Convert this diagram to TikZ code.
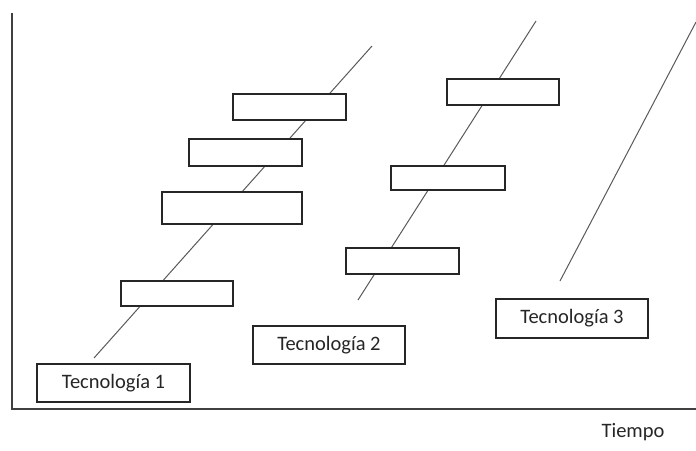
\documentclass[tikz,border=0pt]{standalone}
\usepackage{fontspec}
\setmainfont{Carlito}
\begin{document}
\begin{tikzpicture}[x=1pt,y=-1pt,
  axis/.style={draw=black!75, line width=1.2pt},
  trend/.style={draw=black!65, line width=1pt},
  bar/.style={draw=black!85, fill=white, line width=1.2pt, rectangle, inner sep=0pt},
  label/.style={bar, minimum width=152pt, minimum height=38pt, font=\fontsize{20.5}{24}\selectfont, text=black!85},
  plain/.style={font=\fontsize{20.5}{24}\selectfont, text=black!85, inner sep=0pt}
]
\useasboundingbox (0,0) rectangle (696,450);
% axes
\coordinate (ytop) at (12,13);
\coordinate (orig) at (12,409);
\coordinate (xend) at (696,409);
\draw[axis] (ytop) -- (orig) -- (xend);
% trend lines
\coordinate (l1a) at (94,358);
\coordinate (l1b) at (372,46);
\coordinate (l2a) at (358,300);
\coordinate (l2b) at (536,21);
\coordinate (l3a) at (560,281);
\coordinate (l3b) at (696,22);
\draw[trend] (l1a) -- (l1b);
\draw[trend] (l2a) -- (l2b);
\draw[trend] (l3a) -- (l3b);
% bars technology 1
\node[bar, minimum width=112pt, minimum height=25pt] (a) at (177,293.5) {};
\node[bar, minimum width=140pt, minimum height=32pt] (b) at (232,208) {};
\node[bar, minimum width=113pt, minimum height=27pt] (c) at (245.5,152.5) {};
\node[bar, minimum width=113pt, minimum height=26pt] (d) at (289.5,107) {};
% bars technology 2
\node[bar, minimum width=113pt, minimum height=26pt] (e) at (402.5,261) {};
\node[bar, minimum width=114pt, minimum height=24pt] (f) at (448,178) {};
\node[bar, minimum width=112pt, minimum height=26pt] (g) at (503,92) {};
% labels
\node[label, minimum width=153pt] (t1) at (113.5,383) {Tecnología 1};
\node[label] (t2) at (329,345) {Tecnología 2};
\node[label, minimum height=39pt] (t3) at (572,318.5) {Tecnología 3};
\node[plain] (tiempo) at (633,432) {Tiempo};
\end{tikzpicture}
\end{document}
